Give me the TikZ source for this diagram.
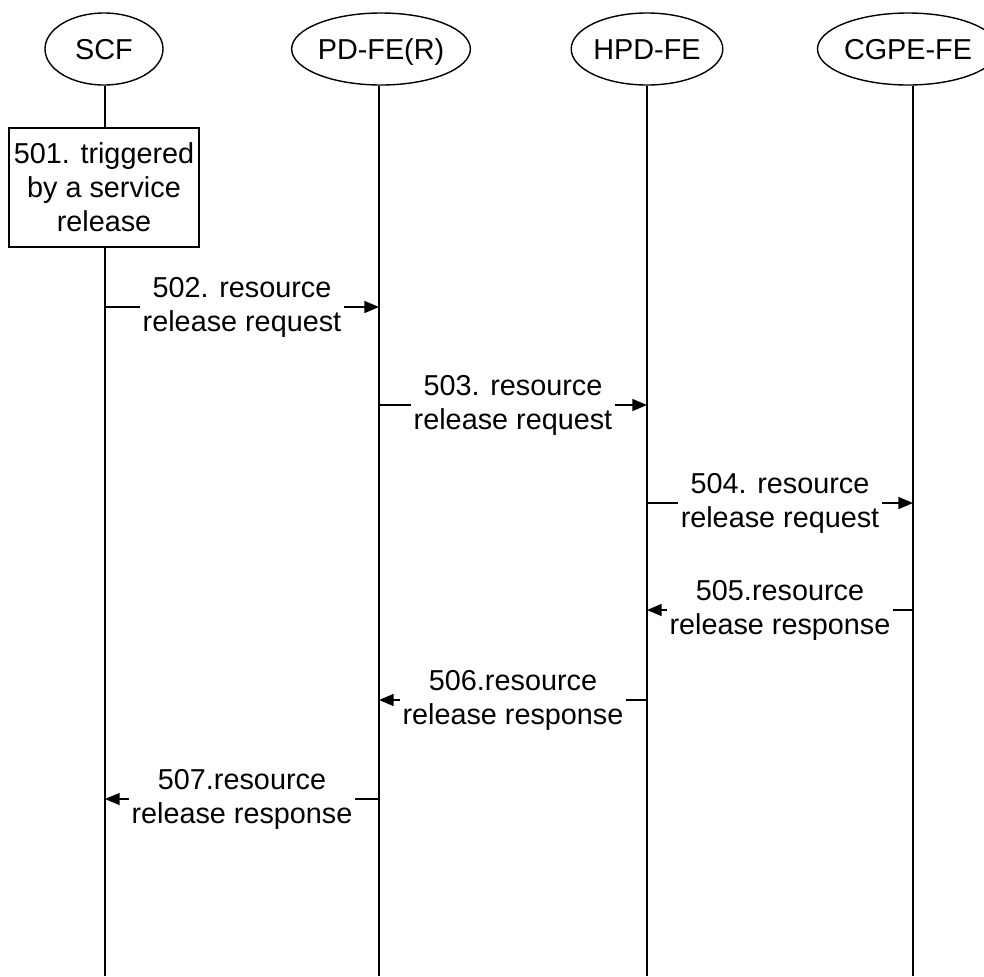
\documentclass[tikz,border=0pt]{standalone}
\usepackage{fontspec}
\setmainfont{Liberation Sans}
\usetikzlibrary{arrows.meta,shapes.geometric}
\begin{document}
\begin{tikzpicture}[x=0.75pt,y=-0.75pt,
  every node/.style={font=\fontsize{21.6}{25.5}\selectfont},
  head/.style={draw, ellipse, inner sep=0pt, minimum height=54pt, text height=15.5pt, text depth=0pt, line width=1.05pt},
  actbox/.style={draw, rectangle, inner sep=0pt, minimum width=142.5pt, minimum height=89pt, align=center, line width=1.05pt},
  life/.style={line width=1.05pt},
  msg/.style={line width=1.05pt, -{Triangle[length=11pt,width=9pt]}},
  lbl/.style={fill=white, align=center, inner xsep=2pt, inner ysep=0pt}]
\useasboundingbox (0,0) rectangle (984,976);

% heads
\node[head, minimum width=88.5pt] (scf) at (104,49) {SCF};
\node[head, minimum width=114pt] (pd) at (381,49) {PD-FE(R)};
\node[head, minimum width=113pt] (hpd) at (647,49) {HPD-FE};
\node[head, minimum width=113pt] (cg) at (908,49) {CGPE-FE};

% lifeline bottoms
\coordinate (scfb) at (105,976);
\coordinate (pdb) at (379,976);
\coordinate (hpdb) at (647,976);
\coordinate (cgb) at (913,976);

% action box
\node[actbox] (box) at (104,187.5) {501. triggered\\by a service\\release};

% lifelines
\draw[life] (scfb |- scf.south) -- (scfb |- box.north);
\draw[life] (scfb |- box.south) -- (scfb);
\draw[life] (pdb |- pd.south) -- (pdb);
\draw[life] (hpdb |- hpd.south) -- (hpdb);
\draw[life] (cgb |- cg.south) -- (cgb);

% message points
\coordinate (s2) at (105,307);  \coordinate (p2) at (379,307);
\coordinate (p3) at (379,405);  \coordinate (h3) at (647,405);
\coordinate (h4) at (647,503);  \coordinate (c4) at (913,503);
\coordinate (c5) at (913,610);  \coordinate (h5) at (647,610);
\coordinate (h6) at (647,700);  \coordinate (p6) at (379,700);
\coordinate (p7) at (379,799);  \coordinate (s7) at (105,799);

% messages
\draw[msg] (s2) -- (p2) node[midway, lbl] (m2) {502. resource\\release request};
\draw[msg] (p3) -- (h3) node[midway, lbl] (m3) {503. resource\\release request};
\draw[msg] (h4) -- (c4) node[midway, lbl] (m4) {504. resource\\release request};
\draw[msg] (c5) -- (h5) node[midway, lbl] (m5) {505.resource\\release response};
\draw[msg] (h6) -- (p6) node[midway, lbl] (m6) {506.resource\\release response};
\draw[msg] (p7) -- (s7) node[midway, lbl] (m7) {507.resource\\release response};
\end{tikzpicture}
\end{document}
